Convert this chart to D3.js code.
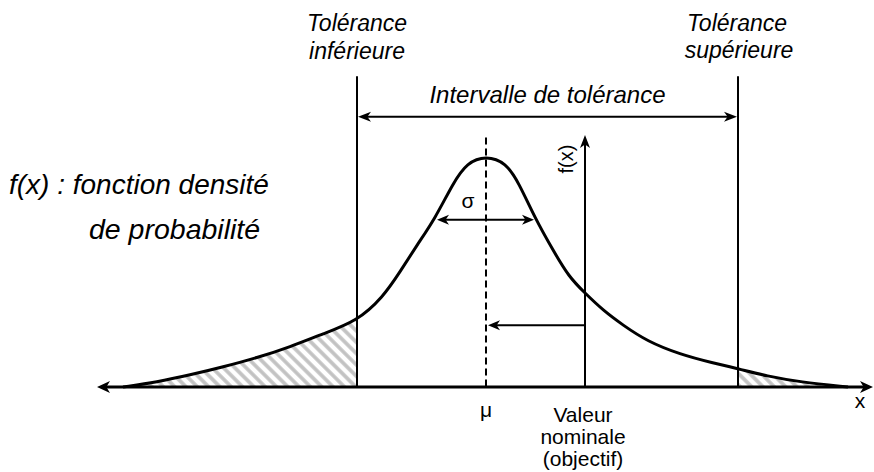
<!DOCTYPE html>
<html><head><meta charset="utf-8">
<script src="https://cdn.jsdelivr.net/npm/d3@7"></script>
<style>
body{margin:0;background:#fff}
svg{display:block}
text{font-family:"Liberation Sans",Arial,Helvetica,sans-serif;fill:#000}
</style>
</head><body>
<svg id="c" width="874" height="472"></svg>
<script>
// ---- data (x in units of ~sigma, mu = 0) ----
const curveX = [-7.26,-6.58,-5.92,-5.26,-4.58,-3.92,-3.26,-2.58,-2.06,-1.72,-1.38,-1.02,-0.66,-0.38,0,
                 0.40,0.66,0.98,1.34,1.66,1.98,2.34,2.74,3.22,3.88,4.54,5.04,5.62,6.28,7.24];
const curveF = [0,0.0087,0.021,0.035,0.051,0.070,0.093,0.115,0.157,0.201,0.248,0.294,0.356,0.392,0.404,
                 0.392,0.356,0.295,0.239,0.192,0.164,0.134,0.108,0.080,0.057,0.042,0.032,0.019,0.0087,0];
const mu = 0;
const nominal = 1.98;
const tolLow = -2.58;
const tolHigh = 5.04;
const sigmaLeft = -0.98, sigmaRight = 0.96, sigmaLevel = 0.292;
const axisRange = [-7.78, 7.74];
const tolTop = 0.543, intervalLevel = 0.472, fAxisTop = 0.440, muTop = 0.436, shiftLevel = 0.108;
const labels = {
  tolLow: ["Tolérance", "inférieure"],
  tolHigh: ["Tolérance", "supérieure"],
  interval: "Intervalle de tolérance",
  density: ["f(x) : fonction densité", "de probabilité"],
  nominal: ["Valeur", "nominale", "(objectif)"],
  mu: "μ", sigma: "σ", x: "x", fx: "f(x)"
};

const pts = curveX.map((x, i) => ({x, f: curveF[i]}));

const svg = d3.select("#c");
const x = d3.scaleLinear().domain(axisRange).range([97, 873]);
const y = d3.scaleLinear().domain([0, 0.4]).range([387, 158]);

// hatch pattern
const defs = svg.append("defs");
const pat = defs.append("pattern").attr("id", "hatch").attr("patternUnits", "userSpaceOnUse")
  .attr("width", 8).attr("height", 8).attr("patternTransform", "rotate(-45)");
pat.append("rect").attr("width", 8).attr("height", 8).attr("fill", "#fff");
pat.append("line").attr("x1", 2).attr("y1", 0).attr("x2", 2).attr("y2", 8)
  .attr("stroke", "#c2c2c2").attr("stroke-width", 3.6);

defs.append("clipPath").attr("id", "clipL").append("rect")
  .attr("x", x(curveX[0]) - 2).attr("y", 0).attr("width", x(tolLow) - x(curveX[0]) + 2).attr("height", y(0));
defs.append("clipPath").attr("id", "clipR").append("rect")
  .attr("x", x(tolHigh)).attr("y", 0).attr("width", x(curveX[curveX.length-1]) - x(tolHigh) + 2).attr("height", y(0));

const curveType = d3.curveBasis;
const area = d3.area().x(d => x(d.x)).y0(y(0)).y1(d => y(d.f)).curve(curveType);
svg.append("path").datum(pts).attr("d", area).attr("fill", "url(#hatch)").attr("clip-path", "url(#clipL)");
svg.append("path").datum(pts).attr("d", area).attr("fill", "url(#hatch)").attr("clip-path", "url(#clipR)");

// arrowhead helper
function head(tx, ty, angle, len, hw) {
  svg.append("path")
    .attr("d", `M0,0 L${-len},${-hw} L${-len*0.72},0 L${-len},${hw} Z`)
    .attr("transform", `translate(${tx},${ty}) rotate(${angle})`)
    .attr("fill", "#000");
}
function seg(x1, y1, x2, y2, w, dash) {
  const l = svg.append("line").attr("x1", x1).attr("y1", y1).attr("x2", x2).attr("y2", y2)
    .attr("stroke", "#000").attr("stroke-width", w);
  if (dash) l.attr("stroke-dasharray", dash);
  return l;
}

// tolerance lines
seg(x(tolLow), y(tolTop), x(tolLow), y(0), 2);
seg(x(tolHigh), y(tolTop), x(tolHigh), y(0), 2);

// interval arrow
seg(x(tolLow) + 6, y(intervalLevel), x(tolHigh) - 6, y(intervalLevel), 2);
head(x(tolLow) + 1, y(intervalLevel), 180, 13, 5);
head(x(tolHigh) - 1, y(intervalLevel), 0, 13, 5);

// mu dashed line
seg(x(mu), y(muTop), x(mu), y(0), 2, "7,4");

// sigma arrow
seg(x(sigmaLeft) + 6, y(sigmaLevel), x(sigmaRight) - 6, y(sigmaLevel), 2);
head(x(sigmaLeft), y(sigmaLevel), 180, 12, 5);
head(x(sigmaRight), y(sigmaLevel), 0, 12, 5);

// f(x) axis at nominal value
seg(x(nominal), y(0), x(nominal), y(fAxisTop) + 6, 2);
head(x(nominal), y(fAxisTop), -90, 13, 5);

// shift arrow nominal -> mu
seg(x(nominal), y(shiftLevel), x(mu) + 8, y(shiftLevel), 2);
head(x(mu) + 2, y(shiftLevel), 180, 12, 5);

// density curve
const line = d3.line().x(d => x(d.x)).y(d => y(d.f)).curve(curveType);
svg.append("path").datum(pts).attr("d", line).attr("fill", "none")
  .attr("stroke", "#000").attr("stroke-width", 3).attr("stroke-linejoin", "round");

// x axis
seg(x(axisRange[0]) + 6, y(0), x(axisRange[1]) - 6, y(0), 3);
head(x(axisRange[0]), y(0), 180, 13, 6);
head(x(axisRange[1]), y(0), 0, 13, 6);

// ---- texts ----
function txt(tx, ty, s, size, italic, anchor) {
  return svg.append("text").attr("x", tx).attr("y", ty).text(s)
    .attr("font-size", size).attr("font-style", italic ? "italic" : "normal")
    .attr("text-anchor", anchor || "middle");
}
txt(x(tolLow), 31, labels.tolLow[0], 23, true);
txt(x(tolLow), 59, labels.tolLow[1], 23, true);
txt(x(tolHigh) - 1, 31, labels.tolHigh[0], 23, true);
txt(x(tolHigh) + 1, 58, labels.tolHigh[1], 23, true);
txt((x(tolLow) + x(tolHigh)) / 2, 103, labels.interval, 24, true);
txt(9, 194, labels.density[0], 28, true, "start");
txt(89, 239, labels.density[1], 28.5, true, "start");
txt(x(nominal) - 2, 422, labels.nominal[0], 21, false);
txt(x(nominal) - 2, 444, labels.nominal[1], 21, false);
txt(x(nominal) - 2, 466, labels.nominal[2], 21, false);
txt(x(mu), 417, labels.mu, 21, false);
txt(468, 208, labels.sigma, 21, false);
txt(860, 408, labels.x, 21, false);
svg.append("text").attr("transform", `translate(573,159) rotate(-90)`)
  .attr("text-anchor", "middle").attr("font-size", 20).text(labels.fx);
</script>
</body></html>
